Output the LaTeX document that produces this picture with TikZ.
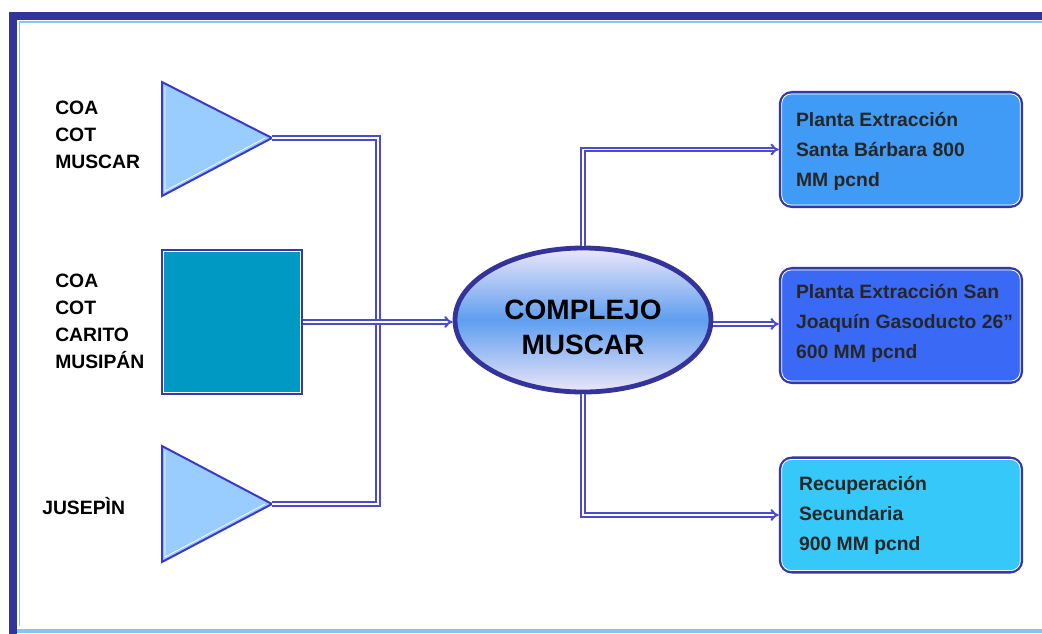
\documentclass[tikz,border=0pt]{standalone}
\usepackage{fontspec}
\setmainfont{Liberation Sans}
\usetikzlibrary{arrows.meta,shapes.geometric,calc}
\definecolor{frameblue}{HTML}{333399}
\definecolor{framelight}{HTML}{8FC0F4}
\definecolor{conncol}{HTML}{4B4BCC}
\definecolor{edgeblue}{HTML}{3737A8}
\definecolor{trifill}{HTML}{99CCFF}
\definecolor{tririm}{HTML}{3A3AC8}
\definecolor{sqfill}{HTML}{0099C4}
\definecolor{boxa}{HTML}{3F9BF5}
\definecolor{boxb}{HTML}{3A6AF5}
\definecolor{boxc}{HTML}{36C8F8}
\definecolor{ellmid}{HTML}{5E9EF0}
\definecolor{elledge}{HTML}{EDE6F8}
\tikzset{
  conn/.style={draw=conncol, line width=1.5pt, double=white, double distance=1.3pt},
  arr/.style={conn, -{Implies}},
  label/.style={font=\fontsize{14.5}{20.25}\selectfont\bfseries, align=left, inner sep=0pt},
  boxtext/.style={font=\fontsize{14.5}{22.5}\selectfont\bfseries, align=left, inner sep=0pt, text=black!85},
  outbox/.style={draw=edgeblue, line width=1.8pt, rounded corners=9pt, minimum width=181.5pt, minimum height=86pt, inner sep=0pt},
  tri/.style={draw=tririm, line width=1.5pt, fill=trifill, line join=miter},
}
\begin{document}
\begin{tikzpicture}[x=0.75pt,y=-0.75pt]
\path[use as bounding box] (0,0) rectangle (1042,633);
\fill[white] (0,0) rectangle (1042,633);
% frame
\draw[frameblue, line width=6pt] (13,640) -- (13,16) -- (1050,16);
\draw[framelight, line width=1.2pt] (19.5,626) -- (19.5,22) -- (1050,22);
\draw[framelight, line width=3.2pt] (17,631) -- (1050,631);

% source shapes
\path[tri] (162,82) coordinate (t1a) -- (162,196) -- (272,138) coordinate (t1) -- cycle;
\draw[white, line width=0.5pt] (165,87) -- (165,191) -- (265,138);
\path[tri] (162,446) coordinate (t3a) -- (162,562) -- (272,504) coordinate (t3) -- cycle;
\draw[white, line width=0.5pt] (165,451) -- (165,557) -- (265,504);
\node[draw=edgeblue, line width=1.8pt, fill=sqfill, minimum width=105pt, minimum height=108pt, inner sep=0pt] (sq) at (232,322) {};
\draw[white, line width=0.7pt] ($(sq.north west)+(3,3)$) rectangle ($(sq.south east)+(-3,-3)$);

% labels
\node[label, anchor=west] (l1) at (55,135) {COA\\COT\\MUSCAR};
\node[label, anchor=west] (l2) at (55,321) {COA\\COT\\CARITO\\MUSIPÁN};
\node[label, anchor=west] (l3) at (42,506) {JUSEPÌN};

% central ellipse
\node[ellipse, draw=frameblue, line width=3.6pt, minimum width=192pt, minimum height=108pt,
      top color=elledge, bottom color=elledge, middle color=ellmid, inner sep=0pt] (ell) at (583,320) {};
\node[font=\fontsize{21}{26.25}\selectfont\bfseries, align=center, inner sep=0pt] (et) at (583,327) {COMPLEJO\\MUSCAR};

% output boxes
\node[outbox, fill=boxa] (b1) at (901,149.5) {};
\node[outbox, fill=boxb] (b2) at (901,325.5) {};
\node[outbox, fill=boxc] (b3) at (901,515) {};
\foreach \b in {b1,b2,b3}{
  \draw[white, line width=0.6pt, rounded corners=7pt] ($(\b.north west)+(3,3)$) rectangle ($(\b.south east)+(-3,-3)$);
}
\node[boxtext, anchor=west] (bt1) at ($(b1.west)+(17,2)$) {Planta Extracción\\Santa Bárbara 800\\MM pcnd};
\node[boxtext, anchor=west] (bt2) at ($(b2.west)+(17,-2)$) {Planta Extracción San\\Joaquín Gasoducto 26”\\600 MM pcnd};
\node[boxtext, anchor=west] (bt3) at ($(b3.west)+(20,0)$) {Recuperación\\Secundaria\\900 MM pcnd};

% connectors
\coordinate (jx) at (378,138);
\draw[conn] (t1) -- (jx) |- (t3);
\draw[arr] (sq.east) -- (sq.east -| ell.west);
\draw[arr] (ell.north) |- (b1.west);
\draw[arr] ([yshift=-3pt]ell.east) -- ([yshift=-3pt]ell.east -| b2.west);
\draw[arr] (ell.south) |- (b3.west);
\end{tikzpicture}
\end{document}
